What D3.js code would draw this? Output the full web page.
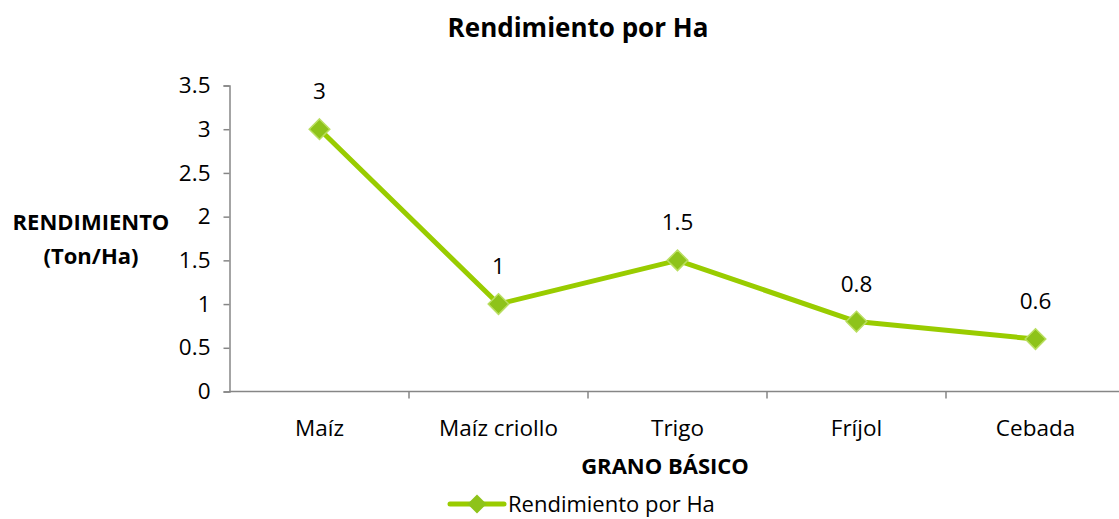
<!DOCTYPE html>
<html>
<head>
<meta charset="utf-8">
<script src="https://cdn.jsdelivr.net/npm/d3@7"></script>
<style>
  body { margin: 0; background: #fff; }
  svg { font-family: "Open Sans", "Noto Sans", sans-serif; }
</style>
</head>
<body>
<svg width="1119" height="519"></svg>
<script>
const categories = ['Maíz', 'Maíz criollo', 'Trigo', 'Fríjol', 'Cebada'];
const rendimiento = [3, 1, 1.5, 0.8, 0.6];
const yTicks = [0, 0.5, 1, 1.5, 2, 2.5, 3, 3.5];

const LINE = '#99cc00';
const MARK = '#8ec31a';
const AXIS = '#868686';

const svg = d3.select('svg');

const x = d3.scaleBand().domain(categories).range([230, 1125]);
const y = d3.scaleLinear().domain([0, 3.5]).range([391.5, 85.5]);

// title
svg.append('text')
  .attr('x', 578).attr('y', 37)
  .attr('text-anchor', 'middle')
  .attr('font-size', 26).attr('font-weight', 'bold')
  .text('Rendimiento por Ha');

// y axis
const yAxis = svg.append('g')
  .attr('transform', 'translate(229.5,0)')
  .call(d3.axisLeft(y).tickValues(yTicks).tickSize(6).tickPadding(13).tickFormat(d3.format('')));
yAxis.select('.domain').attr('stroke', AXIS).attr('stroke-width', 1.5);
yAxis.selectAll('.tick line').attr('stroke', AXIS).attr('stroke-width', 1.5);
yAxis.selectAll('.tick text').attr('font-size', 22.5).attr('fill', '#000')
  .attr('font-family', '"Open Sans", sans-serif');

// x axis
const xg = svg.append('g').attr('transform', 'translate(0,391.5)');
xg.append('line')
  .attr('x1', 229).attr('x2', 1119)
  .attr('stroke', AXIS).attr('stroke-width', 1.5);
xg.selectAll('line.tk')
  .data(categories.slice(1))
  .join('line')
  .attr('class', 'tk')
  .attr('x1', d => x(d)).attr('x2', d => x(d))
  .attr('y1', 0).attr('y2', 7)
  .attr('stroke', AXIS).attr('stroke-width', 1.5);
xg.selectAll('text')
  .data(categories)
  .join('text')
  .attr('x', d => x(d) + x.bandwidth() / 2)
  .attr('y', 44)
  .attr('text-anchor', 'middle')
  .attr('font-size', 22.5)
  .text(d => d);

// axis titles
svg.append('text')
  .attr('x', 665).attr('y', 474)
  .attr('text-anchor', 'middle')
  .attr('font-size', 22).attr('font-weight', 'bold')
  .text('GRANO BÁSICO');
const yt = svg.append('text')
  .attr('text-anchor', 'middle')
  .attr('font-size', 22).attr('font-weight', 'bold');
yt.append('tspan').attr('x', 91).attr('y', 230).text('RENDIMIENTO');
yt.append('tspan').attr('x', 91).attr('y', 264).text('(Ton/Ha)');

// line
const pts = categories.map((c, i) => [x(c) + x.bandwidth() / 2, y(rendimiento[i])]);
svg.append('path')
  .attr('d', d3.line()(pts))
  .attr('fill', 'none')
  .attr('stroke', LINE)
  .attr('stroke-width', 5)
  .attr('stroke-linejoin', 'round');

const diamond = d3.symbol().type(d3.symbolDiamond2).size(270);
svg.selectAll('path.mk')
  .data(pts)
  .join('path')
  .attr('class', 'mk')
  .attr('transform', d => `translate(${d[0]},${d[1]})`)
  .attr('d', diamond)
  .attr('fill', MARK)
  .attr('stroke', '#b9de60')
  .attr('stroke-width', 1.5);

// data labels
svg.selectAll('text.lbl')
  .data(pts)
  .join('text')
  .attr('class', 'lbl')
  .attr('x', d => d[0])
  .attr('y', d => d[1] - 30)
  .attr('text-anchor', 'middle')
  .attr('font-size', 22.5)
  .text((d, i) => rendimiento[i]);

// legend
const lg = svg.append('g').attr('transform', 'translate(449,504)');
lg.append('line').attr('x1', 1).attr('x2', 55)
  .attr('stroke', LINE).attr('stroke-width', 5).attr('stroke-linecap', 'round');
lg.append('path').attr('transform', 'translate(28,0)')
  .attr('d', d3.symbol().type(d3.symbolDiamond2).size(230))
  .attr('fill', MARK);
lg.append('text').attr('x', 59).attr('y', 8)
  .attr('font-size', 22)
  .text('Rendimiento por Ha');
</script>
</body>
</html>
